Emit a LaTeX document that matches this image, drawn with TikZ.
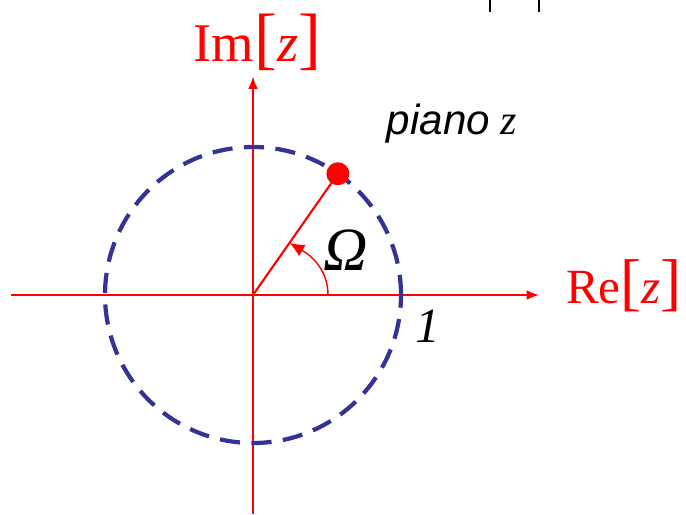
\documentclass[tikz,border=0pt]{standalone}
\usepackage{fontspec}
\setmainfont{Liberation Serif}
\newfontfamily\sansfam{Liberation Sans}
\usepackage{xcolor}
\definecolor{circblue}{RGB}{51, 51, 150}
\usetikzlibrary{
  arrows.meta,
  positioning
}

\begin{document}
\begin{tikzpicture}[
  axis/.style={draw=red, line width=0.9pt, -{Latex[length=7pt, width=5.5pt]}},
  unitcirc/.style={draw=circblue, line width=2.4pt, dash pattern=on 11.5pt off 6.5pt},
  pdot/.style={circle, fill=red, minimum size=0.46cm, inner sep=0pt},
  axlabel/.style={text=red, anchor=base, inner sep=0pt},
  mlabel/.style={anchor=base, inner sep=0pt}
]
\useasboundingbox (-5.06,-4.38) rectangle (8.66,5.9);

% axes
\coordinate (o) at (0,0);
\coordinate (xl) at (-4.84,0);
\coordinate (xr) at (5.72,0);
\coordinate (yb) at (0,-4.38);
\coordinate (yt) at (0,4.37);
\draw[axis] (xl) -- (xr);
\draw[axis] (yb) -- (yt);

% unit circle
\draw[unitcirc] (o) circle (2.96);

% point on the circle
\node[pdot] (p) at (55:2.96) {};
\draw[red, line width=1.2pt] (o) -- (p.center);

% angle
\coordinate (a0) at (1.5,0);
\coordinate (a1) at (55:1.27);
\draw[red, line width=0.8pt, -{Latex[length=8.5pt, width=7.5pt]}] (a0) to[out=90, in=-30] (a1);

% labels
\node[axlabel, font=\fontsize{31}{33}\selectfont] (im) at (0.09,4.66)
  {Im{\fontsize{39}{41}\selectfont[}\textit{z}{\fontsize{39}{41}\selectfont]}};
\node[axlabel, font=\fontsize{28}{30}\selectfont] (re) at (7.42,-0.16)
  {Re{\fontsize{36}{38}\selectfont[}\textit{z}{\fontsize{36}{38}\selectfont]}};
\node[mlabel, font=\fontsize{24}{26}\selectfont] (pz) at (3.98,3.2)
  {{\sansfam\itshape piano} \textit{z}};
\node[mlabel, font=\fontsize{35}{37}\selectfont\itshape] (om) at (1.86,0.5) {Ω};
\node[mlabel, font=\fontsize{28}{30}\selectfont\itshape] (one) at (3.5,-0.94) {1};

% cut-off marks at the top edge
\coordinate (b1t) at (4.74,5.9);
\coordinate (b1b) at (4.74,5.66);
\coordinate (b2t) at (5.72,5.9);
\coordinate (b2b) at (5.72,5.66);
\draw[line width=1.6pt] (b1t) -- (b1b);
\draw[line width=1.6pt] (b2t) -- (b2b);

\end{tikzpicture}
\end{document}
